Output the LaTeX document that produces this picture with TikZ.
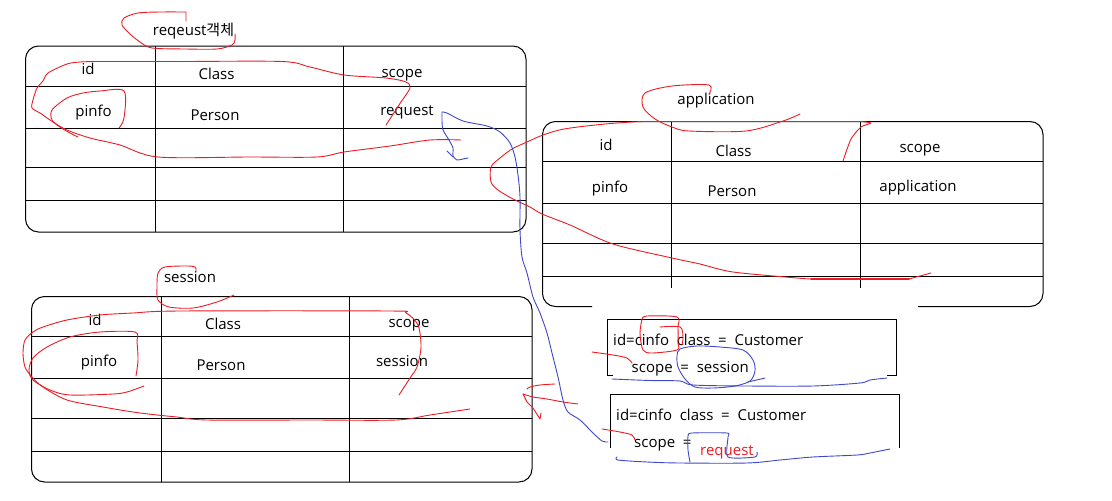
\documentclass[tikz,border=0pt]{standalone}
\usepackage{fontspec}
\setmainfont{Open Sans}
\newfontfamily\krfont{Noto Sans CJK KR}
\newfontfamily\memofont[WordSpace=2]{Open Sans}
\definecolor{paintred}{RGB}{237,28,36}
\definecolor{paintblue}{RGB}{63,72,204}
\tikzset{ cell_style/.style = { inner sep = 0pt % text in a cell
        , anchor = base
        , font = \fontsize{15}{18}\selectfont
        }
        , memo_style/.style = { inner sep = 0pt % text in a memo box
        , anchor = base west
        , font = \memofont\fontsize{15}{18}\selectfont
        }
        , table_style/.style = { draw = black % table lines
        , line width = 1pt
        }
        , red_pen_style/.style = { draw = paintred % freehand marks
        , line width = 0.9pt
        , line cap = round
        , line join = round
        }
        , blue_pen_style/.style = { red_pen_style
        , draw = paintblue
        }
        }

\begin{document}
\begin{tikzpicture}[x=1pt, y=-1pt]
        \useasboundingbox (0,0) rectangle (1112,501);
        \fill [white] (0,0) rectangle (1112,501);

        % request table
        \draw [table_style, rounded corners=13pt] (25.5,46) rectangle (526,232);
        \foreach \y in {86.5,128,167.5,200.5} \draw [table_style] (25.5,\y) -- (526,\y);
        \foreach \x in {155,343} \draw [table_style] (\x,46) -- (\x,232);
        \node [cell_style] (req_title) at (193.5,35) {reqeust{\krfont 객체}};
        \node [cell_style] (req_id) at (88,74) {id};
        \node [cell_style] (req_class) at (216.5,79.5) {Class};
        \node [cell_style] (req_scope) at (402,77.5) {scope};
        \node [cell_style] (req_pinfo) at (93.5,116) {pinfo};
        \node [cell_style] (req_person) at (215,120) {Person};
        \node [cell_style] (req_value) at (407,115) {request};

        % application table
        \draw [table_style, rounded corners=13pt] (592,306.5) -- (542.5,306.5) -- (542.5,121.5) -- (1043,121.5) -- (1043,306.5) -- (918,306.5);
        \foreach \y in {161.5,203,243.5,276.5} \draw [table_style] (542.5,\y) -- (1043,\y);
        \foreach \x in {671.5,860} \draw [table_style] (\x,121.5) -- (\x,288);
        \node [cell_style] (app_title) at (716,104) {application};
        \node [cell_style] (app_id) at (606,150.5) {id};
        \node [cell_style] (app_class) at (733.5,156) {Class};
        \node [cell_style] (app_scope) at (920,152.5) {scope};
        \node [cell_style] (app_pinfo) at (610,192.5) {pinfo};
        \node [cell_style] (app_person) at (732,196.5) {Person};
        \node [cell_style] (app_value) at (918,191.5) {application};

        % session table
        \draw [table_style, rounded corners=13pt] (31.5,296.5) rectangle (532,482);
        \foreach \y in {336.5,378,418,451.5} \draw [table_style] (31.5,\y) -- (532,\y);
        \foreach \x in {161,349} \draw [table_style] (\x,296.5) -- (\x,482);
        \node [cell_style] (ses_title) at (190,282) {session};
        \node [cell_style] (ses_id) at (95,325) {id};
        \node [cell_style] (ses_class) at (223,329) {Class};
        \node [cell_style] (ses_scope) at (409,327) {scope};
        \node [cell_style] (ses_pinfo) at (99,366) {pinfo};
        \node [cell_style] (ses_person) at (221,370) {Person};
        \node [cell_style] (ses_value) at (402,366.5) {session};

        % memo boxes
        \draw [table_style] (613,375) -- (607,375) -- (607,319) -- (896,319) -- (896,375) -- (887,375);
        \draw [table_style] (610,448) -- (610,394.5) -- (899,394.5) -- (899,448);
        \node [memo_style] (memo1_a) at (613,345) {id=cinfo class = Customer};
        \node [memo_style] (memo1_b) at (631.5,372) {scope = session};
        \node [memo_style] (memo2_a) at (616,420.5) {id=cinfo class = Customer};
        \node [memo_style] (memo2_b) at (634,447.5) {scope =};
        \node [memo_style, text=paintred] (memo2_c) at (700,455) {request};

        % red marks, request table
        \draw [red_pen_style] (186,21) -- (186,12) plot [smooth, tension=0.5] coordinates {(186,12) (160,12) (138,13) (124,18) (122,25) (130,34) (140,42) (152,48) (185,49) (217,49) (232,45) (235,40) (235,34)};
        \draw [red_pen_style] plot [smooth, tension=0.5] coordinates {(461,140) (430,140) (390,146) (344,152) (317,157) (250,157) (158,157) (120,145) (90,138) (67,130) (53,122) (40,113) (32,108) (33,100) (37,88) (43,81) (48,73) (67,64) (80,62) (94,61.5)};
        \draw [red_pen_style] plot [smooth, tension=0.5] coordinates {(94,61.5) (180,61.5) (282,61.5) (310,67) (344,75) (386,78) (406,82) (410,88) (401,102) (386,125)};
        \draw [red_pen_style] plot [smooth, tension=0.5] coordinates {(119,128) (124,118) (124,91) (100,91) (83,93) (67,98) (52,110) (52,120) (60,127) (70,133) (78,137)};

        % red marks, application table
        \draw [red_pen_style] plot [smooth, tension=0.5] coordinates {(709,94) (709,85) (672,86) (645,93) (643,107) (655,119) (672,127) (689,131) (746,131) (783,121) (800,114)};
        \draw [red_pen_style] plot [smooth, tension=0.4] coordinates {(843,161) (851,139) (861,127) (871,123) (861,121.5)};
        \draw [red_pen_style, line width=1.6pt] (861,121.5) -- (645,121.5);
        \draw [red_pen_style] plot [smooth, tension=0.5] coordinates {(645,121.5) (631,122) (600,124.5) (564,129) (543,135) (527,142) (512,149) (500,158) (491,167) (491,182) (498,190) (513,199) (530,207) (542,214) (570,225) (613,244) (672,258) (700,264) (733,272) (797,278) (811,279)};
        \draw [red_pen_style, line width=1.6pt] (811,279) -- (909,279);
        \draw [red_pen_style] (909,279) -- (931,273);

        % red marks, session table
        \draw [red_pen_style] plot [smooth, tension=0.5] coordinates {(196,272) (195,267) (186,266) (165,267) (158,273) (157,287) (158,300) (169,307) (193,308) (217,302) (234,295)};
        \draw [red_pen_style] plot [smooth, tension=0.5] coordinates {(399,395) (410,378) (417,367) (421,347) (418,325) (406,313) (389,311) (180,311) (133,313) (100,315) (67,320) (43,327) (33,332) (25,340) (23,353) (25,367) (32,377) (43,387) (67,400) (103,407) (133,412) (157,415) (177,417) (207,420) (310,420) (396,420) (430,415) (470,409)};
        \draw [red_pen_style] plot [smooth, tension=0.5] coordinates {(136,376) (138,360) (137,342) (135,332) (100,332) (70,337) (47,347) (33,358) (29,370) (33,380) (50,390) (70,395) (113,394) (127,392) (144,386)};
        \draw [red_pen_style] plot [smooth, tension=0.5] coordinates {(527,389) (530,387) (540,385) (555,384)};
        \draw [red_pen_style] plot [smooth, tension=0.5] coordinates {(523,394) (533,397) (547,399) (563,402) (578,404)};
        \draw [red_pen_style] (523,394) -- (527,402) -- (533,408) -- (540,419) -- (541,413);

        % red marks, memo boxes
        \draw [red_pen_style] plot [smooth, tension=0.5] coordinates {(592,352) (613,355) (627,358) (632,363)};
        \draw [red_pen_style] plot [smooth, tension=0.5] coordinates {(602,429) (620,432) (632,435) (635,440)};
        \draw [red_pen_style] plot [smooth, tension=0.5] coordinates {(642,319) (647,316) (677,317) (678,327) (678,343) (677,350) (652,353) (643,350) (640,333) (642,319)};
        \draw [red_pen_style] plot [smooth, tension=0.5] coordinates {(660,327) (680,327) (683,337) (682,345)};

        % blue marks
        \draw [blue_pen_style] plot [smooth, tension=0.4] coordinates {(442,112) (442,121) (443,130) (449,140) (453,148) (453,156) (457,160) (463,159) (468,158)};
        \draw [blue_pen_style] (447,151) -- (453,157);
        \draw [blue_pen_style] plot [smooth, tension=0.5] coordinates {(442,112) (447,113) (463,121) (487,126) (500,132) (510,143) (515,157) (518,175) (520,197) (520,230) (522,257) (527,273) (533,297) (540,313) (547,333) (552,353) (558,377) (563,400) (568,412) (580,420) (593,433) (602,441) (608,442)};
        \draw [blue_pen_style] plot [smooth cycle, tension=0.5] coordinates {(680,349) (697,346) (720,347) (743,350) (753,360) (755,371) (750,381) (735,386) (713,388) (695,387) (685,379) (678,367) (677,356)};
        \draw [blue_pen_style] (748,382) -- (765,378);
        \draw [blue_pen_style] plot [smooth, tension=0.5] coordinates {(612,379) (650,380.5) (680,381) (693,385) (747,386) (813,386) (860,383) (870,380) (887,378)};
        \draw [blue_pen_style] plot [smooth, tension=0.4] coordinates {(690,462) (688,450) (688,436) (692,433) (727,433) (728,437) (728,457) (755,457) (757,452)};
        \draw [blue_pen_style] plot [smooth, tension=0.5] coordinates {(617,457) (618,460) (647,462) (680,463) (747,463) (780,460) (813,457) (857,455) (870,453) (880,451) (890,449)};
\end{tikzpicture}
\end{document}
